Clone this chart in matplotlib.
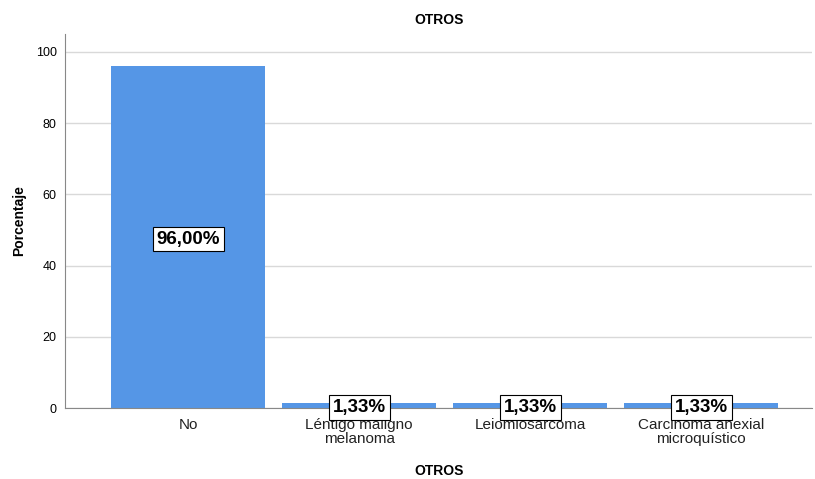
import matplotlib.pyplot as plt
import numpy as np

plt.rcParams['font.family'] = ['Liberation Sans', 'DejaVu Sans']

categorias = ["No", "Léntigo maligno\nmelanoma", "Leiomiosarcoma", "Carcinoma anexial\nmicroquístico"]
porcentajes = [96.00, 1.33, 1.33, 1.33]
etiquetas = ["96,00%", "1,33%", "1,33%", "1,33%"]

fig = plt.figure(figsize=(8.15, 4.79), dpi=100)
ax = fig.add_axes([0.0798, 0.148, 0.917, 0.781])

x = np.arange(len(categorias))
ax.bar(x, porcentajes, width=0.9, color="#5596E6", zorder=2)

for xi, v, t in zip(x, porcentajes, etiquetas):
    ax.text(xi, v / 2, t, ha="center", va="center_baseline", fontsize=13.5, fontweight="bold",
            zorder=3, bbox=dict(boxstyle="square,pad=0.2", fc="white", ec="black", lw=0.8))

ax.set_xlim(-0.72, 3.65)
ax.set_ylim(0, 105)
ax.set_yticks([0, 20, 40, 60, 80, 100])
ax.yaxis.grid(True, color="#D9D9D9", lw=1, zorder=0)
ax.set_xticks(x)
ax.set_xticklabels(categorias, fontsize=11, color="#222222", linespacing=1.0)
ax.tick_params(axis="y", labelsize=9, length=0, pad=6)
ax.tick_params(axis="x", length=0, pad=7)

for s in ["top", "right"]:
    ax.spines[s].set_visible(False)
ax.spines["left"].set_color("#888888")
ax.spines["bottom"].set_color("#888888")

ax.set_ylabel("Porcentaje", fontsize=10, fontweight="bold", labelpad=7)
ax.set_xlabel("OTROS", fontsize=10, fontweight="bold", labelpad=13)
ax.set_title("OTROS", fontsize=10, fontweight="bold", pad=7)

fig.savefig("out.png", dpi=100)
